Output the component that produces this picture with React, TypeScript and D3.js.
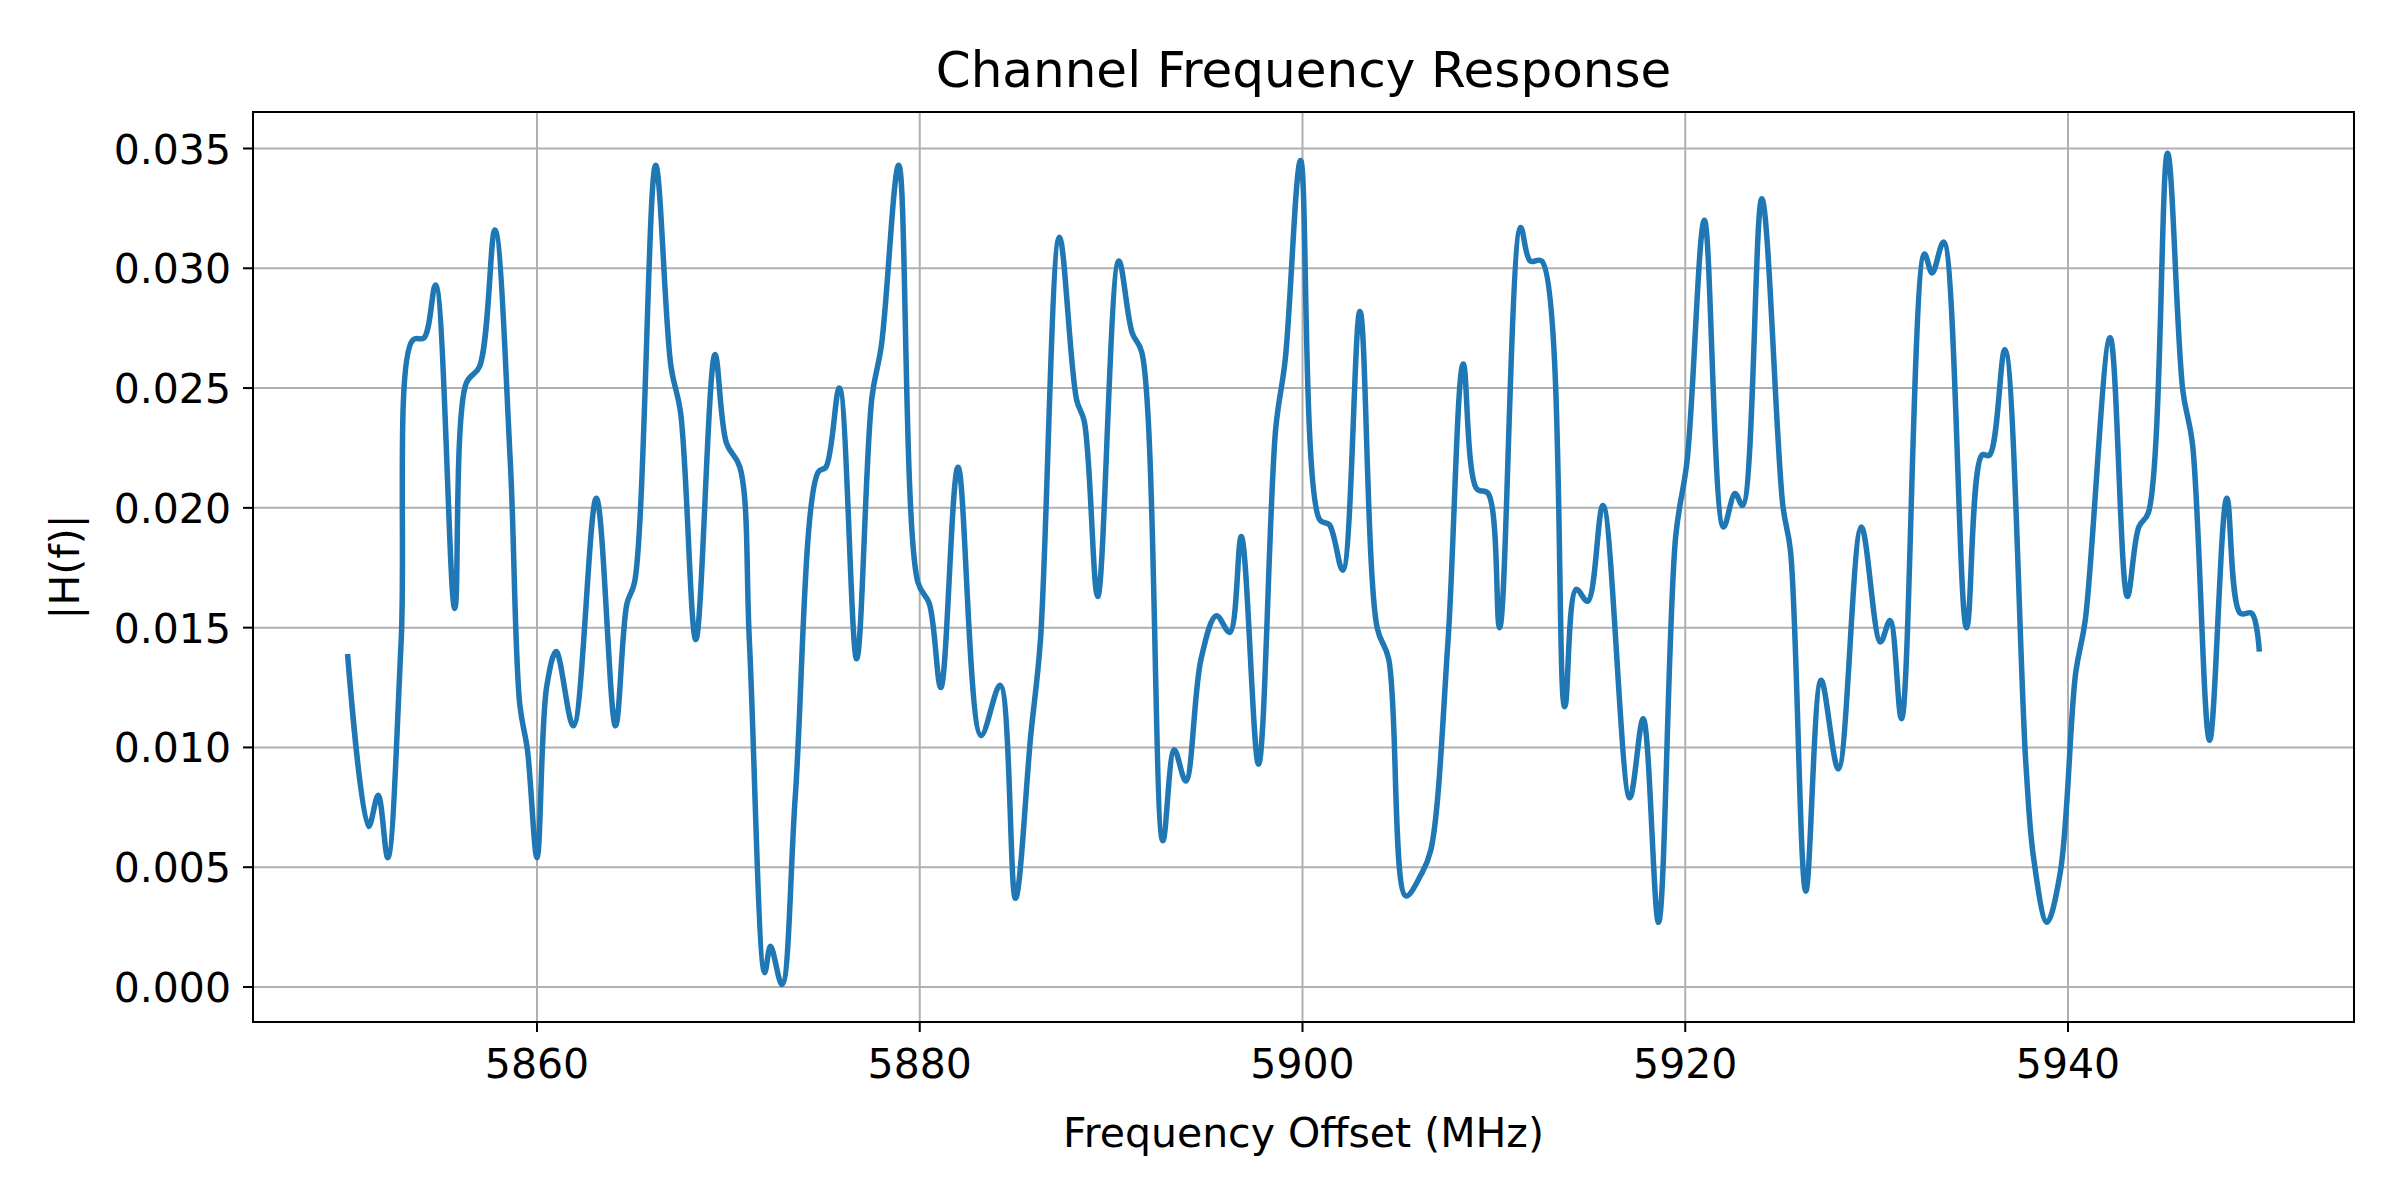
import React from "react";
import * as d3 from "d3";

const freqs = [5850.1,5851.2,5851.7,5852.2,5852.9,5853.5,5854.1,5854.7,5855.7,5856.3,5857.0,5857.8,5858.6,5859.1,5859.5,5860.0,5860.5,5861.0,5861.9,5863.1,5864.1,5864.7,5865.1,5866.2,5867.0,5867.5,5868.3,5869.3,5869.9,5870.6,5871.1,5871.9,5872.2,5872.8,5873.5,5874.7,5875.1,5875.8,5876.7,5877.5,5878.0,5878.9,5879.9,5880.5,5881.1,5882.0,5883.2,5884.2,5885.0,5885.8,5886.3,5887.3,5888.2,5888.6,5889.3,5890.4,5891.1,5891.6,5892.7,5893.3,5893.9,5894.7,5895.5,5896.2,5896.8,5897.7,5898.6,5899.1,5899.9,5900.9,5901.4,5902.1,5903.0,5903.9,5904.5,5905.4,5906.2,5906.7,5907.6,5908.4,5909.1,5909.7,5910.3,5911.4,5911.9,5912.5,5913.7,5914.3,5914.9,5915.7,5917.1,5917.8,5918.6,5919.5,5920.1,5921.0,5922.0,5922.6,5923.0,5924.0,5925.1,5925.5,5926.3,5927.1,5928.0,5929.2,5930.2,5930.7,5931.3,5932.5,5932.9,5933.5,5934.7,5935.5,5935.9,5936.7,5937.8,5938.2,5938.9,5939.6,5940.4,5940.9,5942.2,5943.1,5943.7,5944.2,5945.2,5946.0,5946.5,5947.4,5948.3,5949.0,5949.6,5950.0];
const mags = [0.0139,0.0067,0.0080,0.0054,0.0144,0.027,0.0271,0.0293,0.0158,0.0252,0.0259,0.0316,0.022,0.0118,0.0099,0.0054,0.0125,0.014,0.0109,0.0204,0.0109,0.016,0.0169,0.0343,0.0259,0.024,0.0145,0.0264,0.0227,0.0217,0.0144,0.0006,0.0017,0.0001,0.008,0.0215,0.0217,0.025,0.0137,0.0246,0.0268,0.0343,0.0169,0.016,0.0125,0.0217,0.0105,0.0126,0.0037,0.0105,0.0144,0.0313,0.0245,0.0236,0.0163,0.0303,0.0273,0.0265,0.0061,0.0099,0.0086,0.0137,0.0155,0.0148,0.0188,0.0093,0.0233,0.0262,0.0345,0.0195,0.0193,0.0174,0.0282,0.015,0.0137,0.0038,0.0047,0.0057,0.0144,0.026,0.0208,0.0206,0.015,0.0317,0.0303,0.0303,0.0117,0.0166,0.0161,0.0201,0.0079,0.0112,0.0027,0.0188,0.022,0.032,0.0192,0.0206,0.0201,0.0329,0.0201,0.0182,0.004,0.0128,0.0091,0.0192,0.0144,0.0153,0.0112,0.0306,0.0298,0.0311,0.015,0.0222,0.0222,0.0266,0.0093,0.0054,0.0027,0.0048,0.0131,0.0153,0.0271,0.0163,0.0192,0.0198,0.0348,0.0249,0.0227,0.0103,0.0204,0.0156,0.0156,0.014];
const xTicks = [5860, 5880, 5900, 5920, 5940];
const yTicks = [0, 0.005, 0.01, 0.015, 0.02, 0.025, 0.03, 0.035];

export default function App() {
  const W = 2400, H = 1200;
  const L = 253, R = 2354, T = 112, B = 1022;
  const xs = d3.scaleLinear().domain([5860, 5940]).range([537, 2068]);
  const y = d3.scaleLinear().domain([0, 0.035]).range([987, 148.5]);
  const pts = freqs.map((f, i) => [f, mags[i]] as [number, number]);
  const line = d3.line<[number, number]>().x(d => xs(d[0])).y(d => y(d[1])).curve(d3.curveCatmullRom.alpha(0.5));
  const font = "DejaVu Sans, sans-serif";
  return (
    <svg width={W} height={H} style={{ display: "block", position: "absolute", left: 0, top: 0 }} fontFamily={font}>
      <rect width={W} height={H} fill="white" />
      <g stroke="#b0b0b0" strokeWidth={2}>
        {xTicks.map(t => <line key={t} x1={xs(t)} x2={xs(t)} y1={T} y2={B} />)}
        {yTicks.map(t => <line key={t} x1={L} x2={R} y1={y(t)} y2={y(t)} />)}
      </g>
      <path d={line(pts) || ""} fill="none" stroke="#1f77b4" strokeWidth={5.5} />
      <rect x={L} y={T} width={R - L} height={B - T} fill="none" stroke="black" strokeWidth={2} />
      {xTicks.map(t => (
        <g key={t}>
          <line x1={xs(t)} x2={xs(t)} y1={B} y2={B + 10} stroke="black" strokeWidth={2} />
          <text x={xs(t)} y={B + 56} textAnchor="middle" fontSize={41}>{t}</text>
        </g>
      ))}
      {yTicks.map(t => (
        <g key={t}>
          <line x1={L - 10} x2={L} y1={y(t)} y2={y(t)} stroke="black" strokeWidth={2} />
          <text x={L - 22} y={y(t) + 15} textAnchor="end" fontSize={41}>{t.toFixed(3)}</text>
        </g>
      ))}
      <text x={(L + R) / 2} y={1147} textAnchor="middle" fontSize={41}>Frequency Offset (MHz)</text>
      <text transform={`translate(79,${(T + B) / 2}) rotate(-90)`} textAnchor="middle" fontSize={41}>|H(f)|</text>
      <text x={(L + R) / 2} y={87} textAnchor="middle" fontSize={50}>Channel Frequency Response</text>
    </svg>
  );
}
